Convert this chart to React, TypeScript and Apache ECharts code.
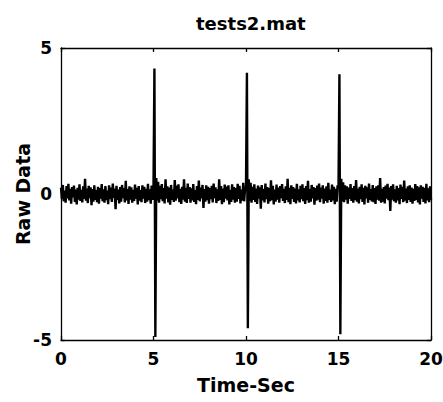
import React, { useEffect, useRef } from "react";
import * as echarts from "echarts";

// Recording parameters
const titleText = "tests2.mat";
const xAxisName = "Time-Sec";
const yAxisName = "Raw Data";
const sampleInterval = 0.05; // seconds between samples
const xTicks = [0, 5, 10, 15, 20];
const yTicks = [-5, 0, 5];

// Raw samples, one every 0.05 s from 0 to 20 s
const rawRow0 = [0.22,-0.18,0.31,-0.25,0.12,-0.3,0.27,-0.15,0.35,-0.22,0.18,-0.33,0.24,-0.12,0.29,-0.27,0.15,-0.36,0.21,-0.19];
const rawRow1 = [0.33,-0.24,0.14,-0.29,0.26,-0.17,0.52,-0.23,0.19,-0.31,0.28,-0.14,0.23,-0.38,0.17,-0.26,0.3,-0.2,0.13,-0.28];
const rawRow2 = [0.25,-0.33,0.2,-0.16,0.34,-0.25,0.16,-0.3,0.27,-0.21,0.12,-0.35,0.3,-0.18,0.22,-0.27,0.36,-0.13,0.19,-0.52];
const rawRow3 = [0.28,-0.2,0.15,-0.32,0.24,-0.26,0.31,-0.14,0.2,-0.29,0.45,-0.22,0.17,-0.34,0.26,-0.19,0.23,-0.3,0.14,-0.24];
const rawRow4 = [0.32,-0.17,0.21,-0.36,0.27,-0.23,0.13,-0.28,0.3,-0.16,0.25,-0.31,0.18,-0.26,0.35,-0.21,0.16,-0.33,0.29,-0.2];
const rawRow5 = [0.24,4.3,-4.9,0.55,-0.22,0.42,-0.3,0.28,-0.18,0.34,-0.25,0.2,-0.32,0.5,-0.16,0.26,-0.29,0.22,-0.37,0.31];
const rawRow6 = [-0.2,0.15,-0.27,0.48,-0.23,0.29,-0.15,0.33,-0.28,0.18,-0.34,0.25,-0.19,0.5,-0.26,0.21,-0.31,0.36,-0.17,0.24];
const rawRow7 = [-0.3,0.19,-0.22,0.34,-0.27,0.13,-0.35,0.27,-0.2,0.46,-0.25,0.22,-0.15,0.31,-0.48,0.17,-0.26,0.3,-0.21,0.25];
const rawRow8 = [-0.33,0.2,-0.18,0.28,-0.29,0.36,-0.14,0.23,-0.31,0.16,-0.24,0.5,-0.2,0.27,-0.35,0.19,-0.28,0.32,-0.16,0.25];
const rawRow9 = [-0.22,0.3,-0.36,0.14,-0.27,0.33,-0.19,0.24,-0.3,0.2,-0.26,0.35,-0.17,0.28,-0.32,0.15,-0.23,0.38,-0.25,0.18];
const rawRow10 = [0.26,4.15,-4.6,0.5,-0.24,0.38,-0.3,0.25,-0.2,0.33,-0.27,0.19,-0.34,0.29,-0.16,0.23,-0.5,0.31,-0.22,0.17];
const rawRow11 = [-0.29,0.36,-0.18,0.24,-0.33,0.2,-0.25,0.47,-0.21,0.28,-0.36,0.15,-0.26,0.32,-0.19,0.22,-0.3,0.27,-0.14,0.34];
const rawRow12 = [-0.24,0.18,-0.31,0.26,-0.2,0.52,-0.28,0.21,-0.35,0.3,-0.17,0.24,-0.27,0.19,-0.32,0.35,-0.22,0.16,-0.29,0.28];
const rawRow13 = [-0.18,0.33,-0.25,0.2,-0.34,0.27,-0.21,0.45,-0.3,0.17,-0.26,0.31,-0.15,0.24,-0.37,0.2,-0.23,0.29,-0.19,0.36];
const rawRow14 = [-0.28,0.22,-0.16,0.3,-0.33,0.19,-0.24,0.26,-0.3,0.38,-0.2,0.15,-0.27,0.32,-0.22,0.25,-0.35,0.18,-0.26,0.3];
const rawRow15 = [0.21,4.1,-4.8,0.52,-0.25,0.4,-0.28,0.3,-0.19,0.26,-0.33,0.22,-0.17,0.34,-0.24,0.2,-0.3,0.27,-0.21,0.48];
const rawRow16 = [-0.26,0.19,-0.32,0.25,-0.18,0.33,-0.27,0.21,-0.36,0.28,-0.15,0.23,-0.3,0.36,-0.2,0.17,-0.25,0.31,-0.28,0.2];
const rawRow17 = [-0.34,0.26,-0.19,0.3,-0.23,0.55,-0.3,0.18,-0.26,0.24,-0.32,0.29,-0.16,0.35,-0.21,0.22,-0.58,0.27,-0.19,0.33];
const rawRow18 = [-0.25,0.16,-0.3,0.28,-0.22,0.2,-0.35,0.32,-0.17,0.25,-0.28,0.46,-0.23,0.19,-0.31,0.26,-0.2,0.3,-0.27,0.22];
const rawRow19 = [-0.33,0.18,-0.24,0.34,-0.2,0.27,-0.29,0.23,-0.36,0.3,-0.16,0.25,-0.27,0.21,-0.32,0.35,-0.22,0.19,-0.28,0.26];
const rawRow20 = [-0.2];

const rawSamples = [
  ...rawRow0, ...rawRow1, ...rawRow2, ...rawRow3, ...rawRow4,
  ...rawRow5, ...rawRow6, ...rawRow7, ...rawRow8, ...rawRow9,
  ...rawRow10, ...rawRow11, ...rawRow12, ...rawRow13, ...rawRow14,
  ...rawRow15, ...rawRow16, ...rawRow17, ...rawRow18, ...rawRow19,
  ...rawRow20,
];

const FONT = "DejaVu Sans";

export default function App() {
  const ref = useRef<HTMLDivElement>(null);

  useEffect(() => {
    if (!ref.current) return;
    const chart = echarts.init(ref.current, null, { renderer: "svg" });
    const seriesData = rawSamples.map((v, i) => [
      Math.round(i * sampleInterval * 1000) / 1000,
      v,
    ]);
    const xMin = xTicks[0];
    const xMax = xTicks[xTicks.length - 1];
    const yMin = yTicks[0];
    const yMax = yTicks[yTicks.length - 1];
    const labelStyle = {
      color: "#000",
      fontFamily: FONT,
      fontWeight: "bold" as const,
      fontSize: 17,
    };
    const lineStyle = { color: "#000", width: 1.3 };
    const axisLine = { show: true, onZero: false, lineStyle };
    const axisTick = { show: true, inside: true, length: 4, lineStyle };
    chart.setOption({
      animation: false,
      backgroundColor: "#fff",
      title: {
        text: titleText,
        left: 191,
        top: 9,
        textStyle: {
          color: "#000",
          fontFamily: FONT,
          fontWeight: "bold",
          fontSize: 18,
        },
      },
      grid: { left: 61, right: 12, top: 48, bottom: 62, outerBoundsMode: "none", containLabel: false },
      xAxis: [
        {
          type: "value",
          min: xMin,
          max: xMax,
          interval: 5,
          position: "bottom",
          name: xAxisName,
          nameLocation: "middle",
          nameGap: 35,
          nameMoveOverlap: false,
          nameTextStyle: { ...labelStyle, fontSize: 19 },
          axisLine,
          axisTick,
          axisLabel: { ...labelStyle, margin: 10 },
          splitLine: { show: false },
        },
        {
          type: "value",
          min: xMin,
          max: xMax,
          interval: 5,
          position: "top",
          axisLine,
          axisTick,
          axisLabel: { show: false },
          splitLine: { show: false },
        },
      ],
      yAxis: [
        {
          type: "value",
          min: yMin,
          max: yMax,
          interval: 5,
          position: "left",
          name: yAxisName,
          nameLocation: "middle",
          nameGap: 29,
          nameMoveOverlap: false,
          nameTextStyle: { ...labelStyle, fontSize: 19 },
          axisLine,
          axisTick,
          axisLabel: { ...labelStyle, margin: 9 },
          splitLine: { show: false },
        },
        {
          type: "value",
          min: yMin,
          max: yMax,
          interval: 5,
          position: "right",
          axisLine,
          axisTick,
          axisLabel: { show: false },
          splitLine: { show: false },
        },
      ],
      series: [
        {
          type: "line",
          xAxisIndex: 0,
          yAxisIndex: 0,
          data: seriesData,
          showSymbol: false,
          symbol: "none",
          lineStyle: { color: "#000", width: 2.4 },
          silent: true,
        },
      ],
    });
    return () => chart.dispose();
  }, []);

  return (
    <div
      ref={ref}
      style={{ position: "fixed", left: 0, top: 0, width: 443, height: 402, background: "#fff" }}
    />
  );
}
